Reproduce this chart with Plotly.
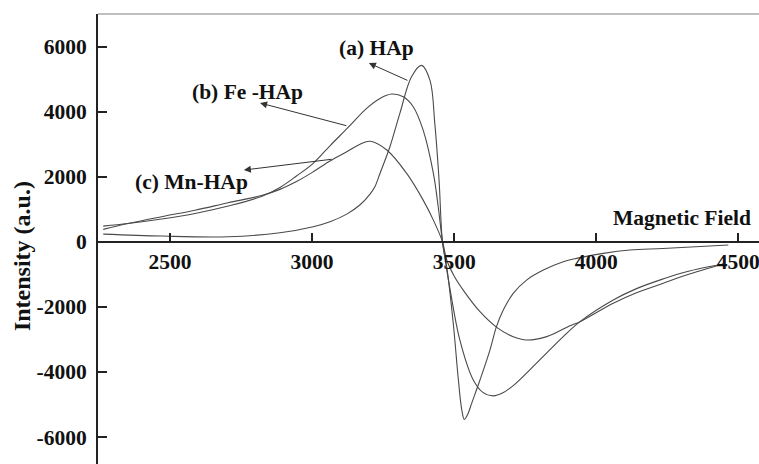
import plotly.graph_objects as go

# EPR spectra: intensity vs magnetic field
field_a = [2265, 2470, 2705, 2887, 3004, 3063, 3122, 3168, 3204, 3221, 3239, 3274, 3309, 3350,
           3385, 3415, 3432, 3447, 3459, 3474, 3497, 3515, 3527, 3536, 3548, 3562, 3591, 3626,
           3649, 3673, 3708, 3755, 3814, 3884, 3931, 4025, 4119, 4235, 4465]
int_a = [236, 175, 155, 275, 460, 615, 850, 1130, 1465, 1690, 2100, 2920, 3945, 5070,
         5420, 4960, 3630, 1890, 0, -770, -2510, -4250, -5170, -5460, -5300, -4960, -4250, -3330,
         -2610, -2100, -1585, -1177, -870, -615, -510, -357, -255, -205, -100]

field_b = [2265, 2352, 2470, 2588, 2705, 2824, 2887, 2945, 3004, 3063, 3127, 3192, 3239, 3280,
           3321, 3356, 3391, 3427, 3444, 3459, 3486, 3520, 3567, 3600, 3638, 3670, 3708, 3790,
           3884, 3943, 4060, 4142, 4236, 4318, 4447]
int_b = [480, 560, 700, 870, 1100, 1400, 1670, 2020, 2410, 2950, 3515, 4100, 4405, 4540,
         4455, 4150, 3430, 2100, 1075, 0, -1480, -3015, -4240, -4620, -4735, -4650, -4420, -3730,
         -2915, -2455, -1790, -1440, -1140, -920, -685]

field_c = [2265, 2352, 2470, 2588, 2705, 2822, 2887, 2945, 3004, 3063, 3122, 3169, 3204, 3263,
           3333, 3391, 3427, 3459, 3474, 3500, 3532, 3591, 3650, 3708, 3755, 3826, 3908, 3943,
           4060, 4142, 4236, 4318, 4447]
int_c = [380, 560, 770, 970, 1200, 1420, 1610, 1850, 2150, 2480, 2765, 3000, 3090, 2820,
         2100, 1280, 665, 0, -560, -1050, -1485, -2150, -2630, -2920, -3020, -2915, -2580, -2455,
         -1890, -1570, -1275, -1020, -685]

x_ticks = [2500, 3000, 3500, 4000, 4500]
y_ticks = [-6000, -4000, -2000, 0, 2000, 4000, 6000]
y_tick_text = ["-6000", "-4000", "-2000", "0", "2000", "4000", "6000"]

x_range = [2246.6, 4573]
y_range = [-6830, 7000]

FONT = "Liberation Serif, Times New Roman, serif"
LINE = "#4a4a4a"
FS = 21.5

fig = go.Figure()
for fx, fy, name in [(field_a, int_a, "(a) HAp"), (field_b, int_b, "(b) Fe -HAp"),
                     (field_c, int_c, "(c) Mn-HAp")]:
    fig.add_trace(go.Scatter(x=fx, y=fy, mode="lines", name=name,
                             line=dict(color=LINE, width=1.1, shape="spline", smoothing=1.0)))

# curve labels and their pointer arrows
labels = [("(a) HAp", 3228, 5953, 3341, 4939, 3200, 5492),
          ("(b) Fe -HAp", 2774, 4600, 3126, 3555, 2817, 4265),
          ("(c) Mn-HAp", 2576, 1835, 3074, 2541, 2760, 2204)]
for text, tx, ty, ax, ay, hx, hy in labels:
    fig.add_annotation(x=tx, y=ty, text=text, showarrow=False,
                       font=dict(family=FONT, size=FS, color="#111", weight="bold"))
    fig.add_annotation(x=hx, y=hy, ax=ax, ay=ay, axref="x", ayref="y", text="",
                       showarrow=True, arrowhead=2, arrowsize=1.4, arrowwidth=1,
                       arrowcolor="#333")

fig.add_annotation(x=4552, y=728, text="Magnetic Field", showarrow=False,
                   xanchor="right", yanchor="middle",
                   font=dict(family=FONT, size=FS, color="#111", weight="bold"))
fig.add_annotation(xref="paper", yref="paper", x=-0.115, y=0.462, text="Intensity (a.u.)",
                   textangle=-90, showarrow=False, xanchor="center", yanchor="middle",
                   font=dict(family=FONT, size=24, color="#111", weight="bold"))

# thin frame line along the top
fig.add_shape(type="line", xref="paper", yref="paper", x0=0, x1=1, y0=1, y1=1,
              line=dict(color="#aaaaaa", width=1.5))

zero_pos = (0 - y_range[0]) / (y_range[1] - y_range[0])

fig.update_layout(
    width=759, height=464,
    margin=dict(l=98, r=0, t=14, b=0),
    plot_bgcolor="white", paper_bgcolor="white",
    showlegend=False,
    xaxis=dict(range=x_range, anchor="free", position=zero_pos, side="bottom",
               showline=True, linecolor="#222", linewidth=2,
               ticks="inside", ticklen=8, tickwidth=1.5, tickcolor="#222",
               tickvals=x_ticks, showgrid=False, zeroline=False,
               ticklabeloverflow="allow",
               tickfont=dict(family=FONT, size=FS, color="#111", weight="bold")),
    yaxis=dict(range=y_range, showline=True, linecolor="#222", linewidth=2,
               ticks="inside", ticklen=9, tickwidth=1.5, tickcolor="#222",
               tickvals=y_ticks, ticktext=y_tick_text, ticklabelstandoff=5,
               showgrid=False, zeroline=False,
               tickfont=dict(family=FONT, size=FS, color="#111", weight="bold")),
)

fig.write_html("out.html")
